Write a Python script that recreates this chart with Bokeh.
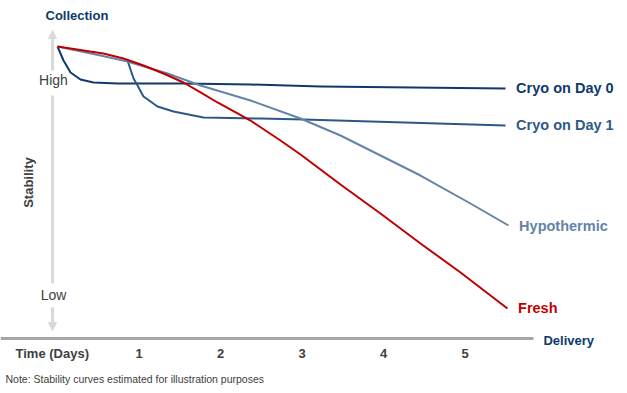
import math
from bokeh.plotting import figure
from bokeh.models import Range1d, Label, Arrow, NormalHead
from bokeh.embed import file_html
from bokeh.resources import INLINE

# ---- data (x: days, y: relative stability) ----
cryo0_days = [0, 0.074, 0.160, 0.282, 0.442, 0.736, 1.546, 2.368, 3.227, 5.497]
cryo0_stab = [10.034, 9.553, 9.141, 8.900, 8.797, 8.763, 8.763, 8.729, 8.660, 8.591]

cryo1_days = [0.859, 0.933, 0.982, 1.055, 1.227, 1.423, 1.791, 2.497, 3.018, 5.497]
cryo1_stab = [9.553, 8.935, 8.694, 8.317, 7.973, 7.801, 7.595, 7.560, 7.526, 7.320]

hypo_days = [0, 0.528, 0.859, 1.350, 1.755, 2.368, 2.982, 3.472, 3.963, 4.454, 5.067, 5.534]
hypo_stab = [10.034, 9.725, 9.519, 9.107, 8.694, 8.179, 7.560, 6.976, 6.289, 5.601, 4.639, 3.883]

fresh_days = [0, 0.319, 0.564, 0.810, 1.055, 1.301, 1.546, 1.755, 1.963, 2.209, 2.368,
              2.736, 2.982, 3.472, 3.963, 4.454, 4.945, 5.521]
fresh_stab = [10.034, 9.897, 9.794, 9.622, 9.381, 9.107, 8.797, 8.454, 8.110, 7.732, 7.491,
              6.804, 6.323, 5.292, 4.296, 3.265, 2.268, 1.031]

tick_days = [1, 2, 3, 4, 5]
tick_labels = ["1", "2", "3", "4", "5"]

series = [
    ("Cryo on Day 0", cryo0_days, cryo0_stab, "#0d3a6b", "#0d3a6b"),
    ("Cryo on Day 1", cryo1_days, cryo1_stab, "#2c5886", "#2e5a87"),
    ("Hypothermic", hypo_days, hypo_stab, "#6483a7", "#6483a7"),
    ("Fresh", fresh_days, fresh_stab, "#c00000", "#c00000"),
]

FONT = "Liberation Sans"
GRAY_TXT = "#404040"
NAVY = "#0d3a6b"

X0, X1 = -0.6994, 6.9080
Y0, Y1 = -1.787, 11.615

p = figure(width=620, height=390, x_range=Range1d(X0, X1), y_range=Range1d(Y0, Y1),
           output_backend="svg", toolbar_location=None,
           min_border=0, min_border_left=0, min_border_right=0,
           min_border_top=0, min_border_bottom=0)
p.axis.visible = False
p.xgrid.visible = False
p.ygrid.visible = False
p.outline_line_color = None
p.background_fill_color = "white"
p.border_fill_color = "white"

# horizontal time axis line
p.line([X0, 5.84], [0, 0], line_color="#a6a6a6", line_width=3)

# vertical stability arrow
ax = -0.061
arrow_col = "#d9d9d9"
p.add_layout(Arrow(end=NormalHead(size=8, fill_color=arrow_col, line_color=arrow_col),
                   x_start=ax, y_start=9.21, x_end=ax, y_end=10.58,
                   line_color=arrow_col, line_width=3))
p.line([ax, ax], [8.35, 1.89], line_color=arrow_col, line_width=3)
p.add_layout(Arrow(end=NormalHead(size=8, fill_color=arrow_col, line_color=arrow_col),
                   x_start=ax, y_start=1.07, x_end=ax, y_end=0.27,
                   line_color=arrow_col, line_width=3))

# curves
for name, xs, ys, lc, tc in series:
    p.line(xs, ys, line_color=lc, line_width=2, line_join="round")

# series labels at line ends
for name, xs, ys, lc, tc in series:
    p.add_layout(Label(x=xs[-1] + 0.13, y=ys[-1], text=name, text_color=tc,
                       text_font=FONT, text_font_style="bold", text_font_size="14.5px",
                       text_align="left", text_baseline="middle"))

# axis texts
def lab(x, y, text, size, color, bold=False, align="left", angle=0):
    p.add_layout(Label(x=x, y=y, text=text, text_color=color, text_font=FONT,
                       text_font_style="bold" if bold else "normal",
                       text_font_size=size, text_align=align, text_baseline="middle",
                       angle=angle))

lab(-0.147, 11.10, "Collection", "13px", NAVY, bold=True)
lab(5.963, -0.069, "Delivery", "13px", NAVY, bold=True)
lab(-0.049, 8.866, "High", "14px", GRAY_TXT, align="center")
lab(-0.049, 1.478, "Low", "14px", GRAY_TXT, align="center")
lab(-0.356, 5.36, "Stability", "13px", GRAY_TXT, bold=True, align="center", angle=math.pi / 2)
lab(-0.515, -0.515, "Time (Days)", "13px", GRAY_TXT, bold=True)
for d, t in zip(tick_days, tick_labels):
    lab(d, -0.515, t, "13px", GRAY_TXT, bold=True, align="center")
lab(-0.638, -1.375, "Note: Stability curves estimated for illustration purposes", "10.5px", GRAY_TXT)

open("out.html", "w").write(file_html(p, INLINE))
